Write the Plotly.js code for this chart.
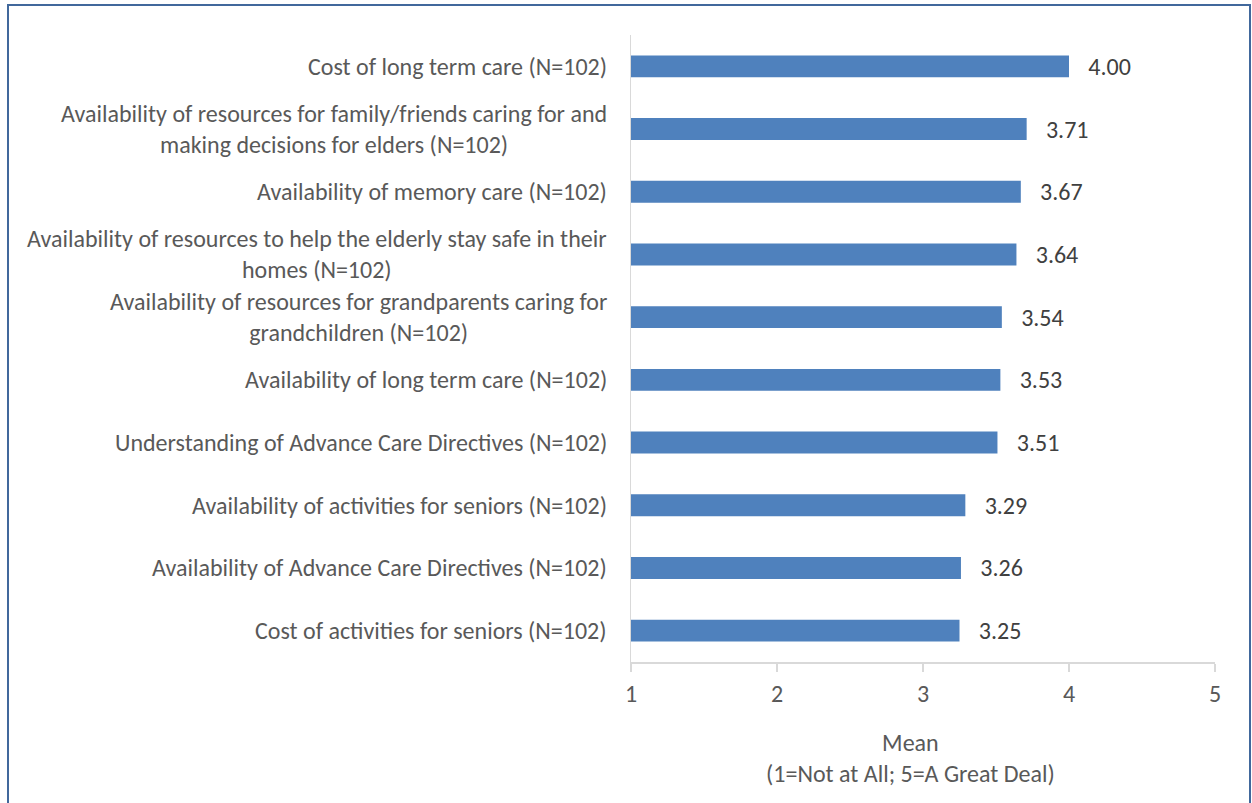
<!DOCTYPE html>
<html>
<head>
<meta charset="utf-8">
<script src="https://cdn.plot.ly/plotly-3.0.1.min.js"></script>
<style>
  html, body { margin: 0; padding: 0; background: #ffffff; }
  #wrap { position: relative; width: 1252px; height: 803px; overflow: hidden; }
  #chart { position: absolute; left: 0; top: 0; width: 1252px; height: 803px; }
  #frame { position: absolute; left: 7px; top: 4px; width: 1240px; height: 820px;
           border: 2px solid #41689c; pointer-events: none; }
</style>
</head>
<body>
<div id="wrap">
  <div id="chart"></div>
  <div id="frame"></div>
</div>
<script>
const categories = [
  "Cost of long term care (N=102)",
  "Availability of resources for family/friends caring for and<br>making decisions for elders (N=102)",
  "Availability of memory care (N=102)",
  "Availability of resources to help the elderly stay safe in their<br>homes (N=102)",
  "Availability of resources for grandparents caring for<br>grandchildren (N=102)",
  "Availability of long term care (N=102)",
  "Understanding of Advance Care Directives (N=102)",
  "Availability of activities for seniors (N=102)",
  "Availability of Advance Care Directives (N=102)",
  "Cost of activities for seniors (N=102)"
];
const means = [4.00, 3.71, 3.67, 3.64, 3.54, 3.53, 3.51, 3.29, 3.26, 3.25];
const xTicks = [1, 2, 3, 4, 5];
const xTitle = "Mean<br>(1=Not at All; 5=A Great Deal)";

const FONT = "Carlito, Calibri, Lato, 'Liberation Sans', sans-serif";
const FS = 24;
const TXT = "#595959";
const AX = "#d9d9d9";

const trace = {
  type: "bar",
  orientation: "h",
  x: means,
  y: categories,
  marker: { color: "#4f81bd" },
  text: means.map(v => v.toFixed(2)),
  texttemplate: "   %{text}",
  textposition: "outside",
  constraintext: "none",
  textfont: { family: FONT, size: FS, color: "#404040" },
  cliponaxis: false,
  hoverinfo: "skip"
};

const catLabels = categories.map(c => ({
  text: c,
  xref: "paper", yref: "y",
  x: 0, y: c,
  xanchor: "right", yanchor: "middle",
  xshift: -22,
  align: "center",
  showarrow: false,
  font: { family: FONT, size: FS, color: TXT }
}));

const layout = {
  width: 1252,
  height: 803,
  margin: { l: 631, r: 37, t: 35, b: 141, pad: 0 },
  paper_bgcolor: "#ffffff",
  plot_bgcolor: "#ffffff",
  showlegend: false,
  bargap: 0.65,
  font: { family: FONT, size: FS, color: TXT },
  xaxis: {
    range: [1, 5],
    tickvals: xTicks,
    ticktext: xTicks.map(String),
    showgrid: false,
    zeroline: false,
    showline: true,
    linecolor: AX,
    linewidth: 1.5,
    ticks: "outside",
    ticklen: 8,
    tickwidth: 1.5,
    tickcolor: AX,
    ticklabelstandoff: 2,
    tickfont: { family: FONT, size: FS, color: TXT },
    fixedrange: true
  },
  xaxis2: {
    overlaying: "x",
    range: [1, 5],
    tickvals: xTicks,
    showticklabels: false,
    showgrid: false,
    zeroline: false,
    showline: false,
    ticks: "inside",
    ticklen: 8,
    tickwidth: 1.5,
    tickcolor: AX,
    side: "bottom",
    anchor: "y"
  },
  yaxis: {
    type: "category",
    autorange: "reversed",
    showgrid: false,
    zeroline: false,
    showline: true,
    linecolor: AX,
    linewidth: 1.5,
    ticks: "",
    showticklabels: false,
    fixedrange: true
  },
  annotations: catLabels.concat([{
    text: xTitle,
    xref: "paper", yref: "paper",
    x: 0.478, y: -0.102,
    xanchor: "center", yanchor: "top",
    showarrow: false,
    font: { family: FONT, size: FS, color: TXT },
    align: "center"
  }])
};

Plotly.newPlot("chart", [trace], layout, { displayModeBar: false, staticPlot: true });
</script>
</body>
</html>
